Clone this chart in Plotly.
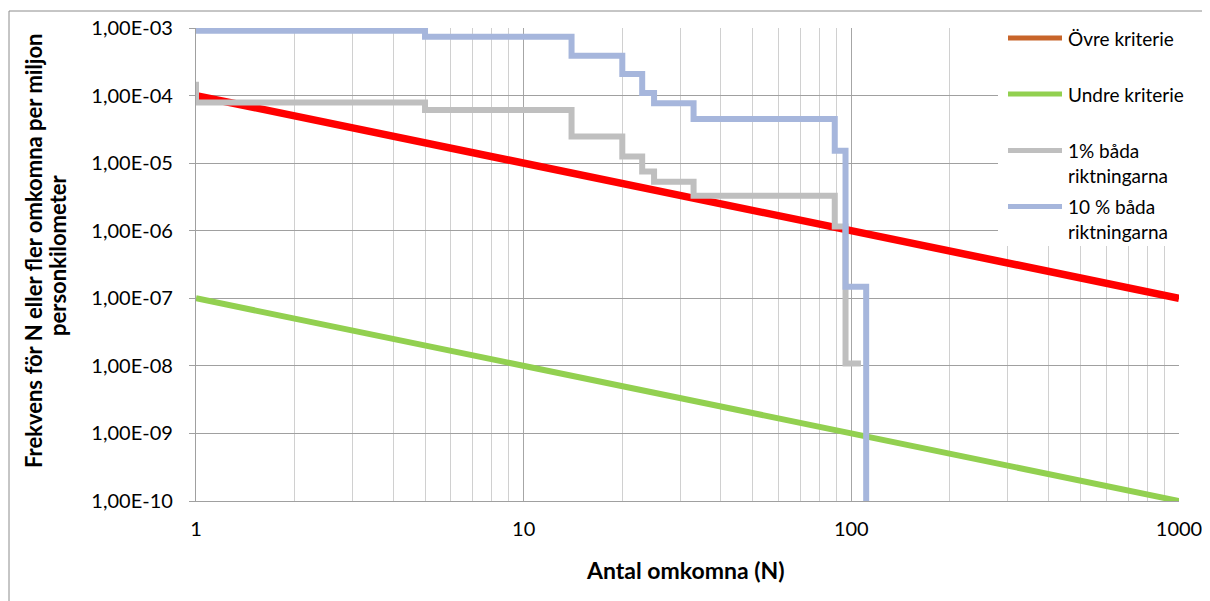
import plotly.graph_objects as go

# ---------------- data ----------------
crit_n = [1, 1000]
ovre_f = [1e-4, 1e-7]
undre_f = [1e-7, 1e-10]

p1_n = [1, 1, 5, 14, 20, 23, 25, 33, 89, 96, 107]
p1_f = [1.6e-4, 7.9e-5, 6.1e-5, 2.47e-5, 1.25e-5, 7.5e-6, 5.3e-6, 3.3e-6, 1.15e-6, 1.08e-8, 1.08e-8]

p10_n = [1, 5, 14, 20, 23, 25, 33, 89, 96, 111]
p10_f = [9.1e-4, 7.4e-4, 3.9e-4, 2.08e-4, 1.09e-4, 7.7e-5, 4.5e-5, 1.53e-5, 1.48e-7, 1e-10]

y_tickvals = [1e-3, 1e-4, 1e-5, 1e-6, 1e-7, 1e-8, 1e-9, 1e-10]
y_ticktext = ["1,00E-03", "1,00E-04", "1,00E-05", "1,00E-06",
              "1,00E-07", "1,00E-08", "1,00E-09", "1,00E-10"]
x_tickvals = [1, 10, 100, 1000]
x_ticktext = ["1", "10", "100", "1000"]
x_minor = [m * 10 ** k for k in range(3) for m in range(2, 10)]

legend_names = ["Övre kriterie", "Undre kriterie", "1% båda<br>riktningarna", "10 % båda<br>riktningarna"]
legend_colors = ["#C8652A", "#92D050", "#BFBFBF", "#A6B6DC"]

# ---------------- layout geometry (page pixels) ----------------
FONT = "Lato"
OFF = 8                      # default body margin of the html page
W, H = 1210 - OFF, 601 - OFF
PL, PR, PT, PB = 196, 1179, 28, 501   # plot area in page pixels
L, T = PL - OFF, PT - OFF
R, B = W - (PR - OFF), H - (PB - OFF)
pw, ph = PR - PL, PB - PT


def px(x):
    return (x - PL) / pw


def py(y):
    return (PB - y) / ph


fig = go.Figure()

fig.add_trace(go.Scatter(x=crit_n, y=ovre_f, mode="lines", name="Övre kriterie",
                         line=dict(color="#FF0000", width=7.5), showlegend=False))
fig.add_trace(go.Scatter(x=crit_n, y=undre_f, mode="lines", name="Undre kriterie",
                         line=dict(color="#92D050", width=6), showlegend=False))
fig.add_trace(go.Scatter(x=p1_n, y=p1_f, mode="lines", line_shape="hv", name="1% båda riktningarna",
                         line=dict(color="#BFBFBF", width=6), showlegend=False))
fig.add_trace(go.Scatter(x=p10_n, y=p10_f, mode="lines", line_shape="hv", name="10 % båda riktningarna",
                         line=dict(color="#A6B6DC", width=6), showlegend=False))

shapes = [
    dict(type="rect", xref="paper", yref="paper",
         x0=px(9), x1=px(1225), y0=py(615), y1=py(11),
         line=dict(color="#8C8C8C", width=1), fillcolor="rgba(0,0,0,0)", layer="below"),
    dict(type="rect", xref="paper", yref="paper",
         x0=px(998), x1=px(1183), y0=py(246), y1=py(27),
         line=dict(width=0), fillcolor="white", layer="above"),
]
annotations = [
    dict(text="<b>Antal omkomna (N)</b>", xref="paper", yref="paper",
         x=px(685), y=py(570), xanchor="center", yanchor="middle",
         showarrow=False, font=dict(family=FONT, size=23)),
    dict(text="<b>Frekvens för N eller fler omkomna per miljon</b>",
         xref="paper", yref="paper", textangle=-90,
         x=px(33), y=py(251), xanchor="center", yanchor="middle",
         showarrow=False, font=dict(family=FONT, size=22)),
    dict(text="<b>personkilometer</b>",
         xref="paper", yref="paper", textangle=-90,
         x=px(57), y=py(256), xanchor="center", yanchor="middle",
         showarrow=False, font=dict(family=FONT, size=22)),
]

swatch_y = [38, 94, 150.5, 206.5]
text_y = [38, 94, 162.5, 218.5]
for name, col, sy, ty in zip(legend_names, legend_colors, swatch_y, text_y):
    shapes.append(dict(type="line", xref="paper", yref="paper",
                       x0=px(1008), x1=px(1062), y0=py(sy), y1=py(sy),
                       line=dict(color=col, width=5), layer="above"))
    annotations.append(dict(text=name, xref="paper", yref="paper",
                            x=px(1066), y=py(ty), xanchor="left", yanchor="middle",
                            align="left", showarrow=False,
                            font=dict(family=FONT, size=19, color="black")))

fig.update_layout(
    width=W, height=H,
    margin=dict(l=L, r=R, t=T, b=B, autoexpand=False),
    paper_bgcolor="white", plot_bgcolor="white",
    font=dict(family=FONT, size=20, color="black"),
    showlegend=False,
    xaxis=dict(type="log", range=[0, 3], tickvals=x_tickvals, ticktext=x_ticktext,
               showgrid=True, gridcolor="#A6A6A6", gridwidth=1,
               minor=dict(tickvals=x_minor, showgrid=True, gridcolor="#D0D0D0", gridwidth=1, ticks=""),
               showline=True, linecolor="#A0A0A0", linewidth=1.3,
               ticks="", ticklabelstandoff=10, zeroline=False,
               tickfont=dict(family=FONT, size=20)),
    yaxis=dict(type="log", range=[-10, -3], tickvals=y_tickvals, ticktext=y_ticktext,
               showgrid=True, gridcolor="#A0A0A0", gridwidth=1,
               showline=True, linecolor="#A0A0A0", linewidth=1.3,
               ticks="outside", ticklen=6, tickcolor="#A0A0A0",
               ticklabelstandoff=12, zeroline=False,
               tickfont=dict(family=FONT, size=20)),
    annotations=annotations,
    shapes=shapes,
)

fig.write_html("out.html")
